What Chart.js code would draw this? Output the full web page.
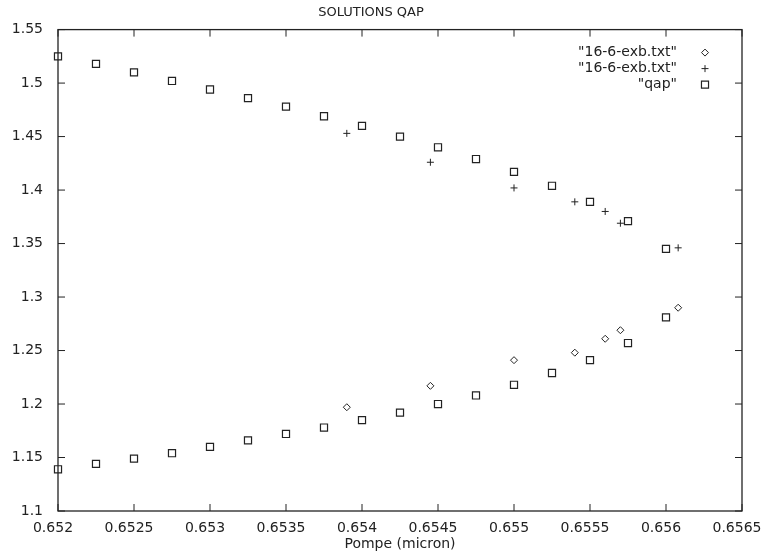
<!DOCTYPE html>
<html lang="fr">
<head>
  <meta charset="UTF-8" />
  <title>SOLUTIONS QAP</title>
  <script src="https://cdn.jsdelivr.net/npm/chart.js"></script>
  <style>
    body { margin: 0; background: #fff; }
    #wrap { width: 764px; height: 555px; }
  </style>
</head>
<body>
  <div id="wrap"><canvas id="qap"></canvas></div>

  <script>
    // QAP solutions, both branches share the same pump wavelengths
    const qapX     = [0.652, 0.65225, 0.6525, 0.65275, 0.653, 0.65325, 0.6535, 0.65375, 0.654,
                      0.65425, 0.6545, 0.65475, 0.655, 0.65525, 0.6555, 0.65575, 0.656];
    const qapUpper = [1.525, 1.518, 1.510, 1.502, 1.494, 1.486, 1.478, 1.469, 1.460,
                      1.450, 1.440, 1.429, 1.417, 1.404, 1.389, 1.371, 1.345];
    const qapLower = [1.139, 1.144, 1.149, 1.154, 1.160, 1.166, 1.172, 1.178, 1.185,
                      1.192, 1.200, 1.208, 1.218, 1.229, 1.241, 1.257, 1.281];

    // measured points from 16-6-exb.txt
    const exbX    = [0.6539, 0.65445, 0.655, 0.6554, 0.6556, 0.6557, 0.65608];
    const exbLow  = [1.197, 1.217, 1.241, 1.248, 1.261, 1.269, 1.290];
    const exbHigh = [1.453, 1.426, 1.402, 1.389, 1.380, 1.369, 1.346];

    const xTicks = [0.652, 0.6525, 0.653, 0.6535, 0.654, 0.6545, 0.655, 0.6555, 0.656, 0.6565];
    const yTicks = [1.1, 1.15, 1.2, 1.25, 1.3, 1.35, 1.4, 1.45, 1.5, 1.55];

    const seriesNames = ['"16-6-exb.txt"', '"16-6-exb.txt"', '"qap"'];

    const pts = (xs, ys) => xs.map((x, i) => ({ x: x, y: ys[i] }));

    Chart.defaults.font.family = '"DejaVu Sans", sans-serif';
    Chart.defaults.font.size = 14;
    Chart.defaults.color = '#222';

    // gnuplot style box with inward ticks on all four sides
    const frame = {
      id: 'frame',
      afterDraw(chart) {
        const { ctx, chartArea: a, scales } = chart;
        const len = 7;
        ctx.save();
        ctx.strokeStyle = '#222';
        ctx.lineWidth = 1.3;
        ctx.strokeRect(a.left, a.top, a.right - a.left, a.bottom - a.top);
        ctx.lineWidth = 1;
        ctx.beginPath();
        xTicks.forEach(v => {
          const px = scales.x.getPixelForValue(v);
          ctx.moveTo(px, a.bottom); ctx.lineTo(px, a.bottom - len);
          ctx.moveTo(px, a.top);    ctx.lineTo(px, a.top + len);
        });
        yTicks.forEach(v => {
          const py = scales.y.getPixelForValue(v);
          ctx.moveTo(a.left, py);  ctx.lineTo(a.left + len, py);
          ctx.moveTo(a.right, py); ctx.lineTo(a.right - len, py);
        });
        ctx.stroke();
        ctx.restore();
      }
    };

    // legend in the top right corner: text right aligned, symbol after it
    const keyBox = {
      id: 'keyBox',
      afterDraw(chart) {
        const { ctx, chartArea: a } = chart;
        ctx.save();
        ctx.font = '14px "DejaVu Sans", sans-serif';
        ctx.textAlign = 'right';
        ctx.textBaseline = 'middle';
        chart.data.datasets.forEach((ds, i) => {
          const y = a.top + 23 + i * 16;
          ctx.fillStyle = '#222';
          ctx.fillText(ds.label, a.right - 65, y);
          ctx.fillStyle = 'rgba(0,0,0,0)';
          ctx.strokeStyle = ds.pointBorderColor;
          ctx.lineWidth = ds.pointBorderWidth;
          Chart.helpers.drawPoint(ctx, {
            pointStyle: ds.pointStyle,
            radius: ds.pointRadius,
            rotation: 0,
            borderWidth: ds.pointBorderWidth
          }, a.right - 37, y);
        });
        ctx.restore();
      }
    };

    new Chart(document.getElementById('qap'), {
      type: 'scatter',
      data: {
        datasets: [
          {
            label: seriesNames[0],
            data: pts(exbX, exbLow),
            pointStyle: 'rectRot',
            pointRadius: 3.5,
            pointBorderWidth: 1,
            pointBorderColor: '#222',
            pointBackgroundColor: 'rgba(0,0,0,0)',
            clip: false
          },
          {
            label: seriesNames[1],
            data: pts(exbX, exbHigh),
            pointStyle: 'cross',
            pointRadius: 3.5,
            pointBorderWidth: 1,
            pointBorderColor: '#222',
            pointBackgroundColor: 'rgba(0,0,0,0)',
            clip: false
          },
          {
            label: seriesNames[2],
            data: pts(qapX, qapUpper).concat(pts(qapX, qapLower)),
            pointStyle: 'rect',
            pointRadius: 5,
            pointBorderWidth: 1.2,
            pointBorderColor: '#222',
            pointBackgroundColor: 'rgba(0,0,0,0)',
            clip: false
          }
        ]
      },
      options: {
        responsive: true,
        maintainAspectRatio: false,
        animation: false,
        layout: { padding: { top: 0, right: 22, bottom: 0, left: 0 } },
        plugins: {
          legend: { display: false },
          tooltip: { enabled: false },
          title: {
            display: true,
            text: 'SOLUTIONS QAP',
            color: '#222',
            font: { size: 13, weight: 'normal' },
            padding: { top: 5, bottom: 9 }
          }
        },
        scales: {
          x: {
            type: 'linear',
            min: 0.652,
            max: 0.6565,
            afterBuildTicks: s => { s.ticks = xTicks.map(v => ({ value: v })); },
            afterFit: s => { s.height = 44; s.paddingLeft = 0; s.paddingRight = 0; },
            ticks: { padding: 9, labelOffset: -5, maxRotation: 0, autoSkip: false, callback: v => String(v) },
            grid: { display: false, drawTicks: false },
            border: { display: false },
            title: {
              display: true,
              text: 'Pompe (micron)',
              padding: { top: 0, bottom: 2 }
            }
          },
          y: {
            type: 'linear',
            min: 1.1,
            max: 1.55,
            afterBuildTicks: s => { s.ticks = yTicks.map(v => ({ value: v })); },
            afterFit: s => { s.width = 58; s.paddingTop = 0; s.paddingBottom = 0; },
            ticks: { padding: 15, autoSkip: false, callback: v => String(v) },
            grid: { display: false, drawTicks: false },
            border: { display: false }
          }
        }
      },
      plugins: [frame, keyBox]
    });
  </script>
</body>
</html>
